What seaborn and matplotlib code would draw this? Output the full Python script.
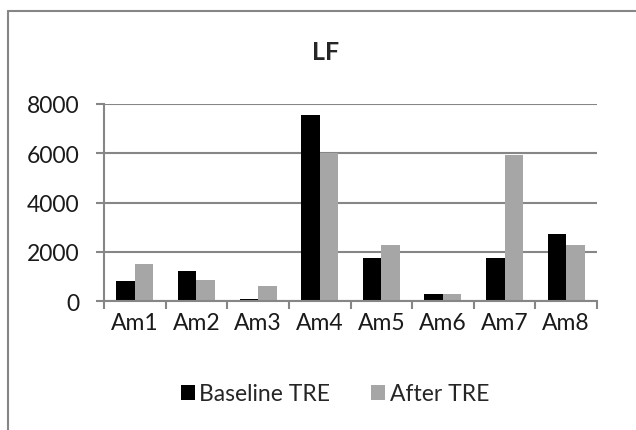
import numpy as np
import pandas as pd
import matplotlib
matplotlib.use("Agg")
import matplotlib.pyplot as plt
import seaborn as sns
from matplotlib.lines import Line2D
from matplotlib.patches import Patch

categories = ["Am1", "Am2", "Am3", "Am4", "Am5", "Am6", "Am7", "Am8"]
baseline_tre = [820, 1240, 95, 7530, 1760, 310, 1760, 2740]
after_tre = [1500, 880, 610, 6000, 2280, 310, 5940, 2280]
series_names = ["Baseline TRE", "After TRE"]
yticks = [0, 2000, 4000, 6000, 8000]

df = pd.DataFrame({
    "cat": categories * 2,
    "value": baseline_tre + after_tre,
    "series": [series_names[0]] * len(categories) + [series_names[1]] * len(categories),
})

sns.set_theme(style="white")
plt.rcParams["font.family"] = ["Lato", "DejaVu Sans"]

fig = plt.figure(figsize=(6.36, 4.31), dpi=100)
ax = fig.add_axes([104/636, 1-302.3/431, (597-104)/636, (302.3-104.7)/431])

grid_c = "#868686"
colors = ["#000000", "#a6a6a6"]
fs = 16.5
sns.barplot(data=df, x="cat", y="value", hue="series", palette=colors,
            width=0.6, ax=ax, legend=False, saturation=1, linewidth=0)

ax.set_xlim(-0.5, 7.5)
ax.set_ylim(0, 8000)
ax.set_yticks(yticks)
ax.set_yticklabels([str(v) for v in yticks], fontsize=fs, color="#1a1a1a")
ax.set_xticks(range(len(categories)))
ax.set_xticklabels(categories, fontsize=fs, color="#1a1a1a")
ax.set_xticks(np.arange(-0.5, 8, 1), minor=True)
ax.tick_params(axis="x", which="major", length=0, pad=8)
ax.tick_params(axis="x", which="minor", length=6, width=1.5, color=grid_c, direction="out", bottom=True)
ax.tick_params(axis="y", which="major", length=5.5, width=1.5, color=grid_c, direction="out", left=True, pad=12)
ax.set_xlabel("")
ax.set_ylabel("")
ax.set_axisbelow(True)
ax.yaxis.grid(True, color=grid_c, linewidth=1.5)
ax.xaxis.grid(False)
for s in ["top", "right"]:
    ax.spines[s].set_visible(False)
for s in ["left", "bottom"]:
    ax.spines[s].set_color(grid_c)
    ax.spines[s].set_linewidth(1.5)

fig.text(326/636, 1-53/431, "LF", ha="center", va="center", fontsize=18, fontweight="bold")

handles = [Patch(facecolor=c, edgecolor="none") for c in colors]
fig.legend(handles, series_names, loc="center", bbox_to_anchor=(335/636, 1-395/431),
           ncol=2, frameon=False, fontsize=fs, handlelength=0.6, handleheight=0.6,
           handletextpad=0.2, columnspacing=1.8)

fig.add_artist(Line2D([8/636, 8/636], [0, 1-12/431], color="#868686", linewidth=1.5, transform=fig.transFigure))
fig.add_artist(Line2D([8/636, 1], [1-12/431, 1-12/431], color="#868686", linewidth=1.5, transform=fig.transFigure))

fig.savefig("out.png", dpi=100)
